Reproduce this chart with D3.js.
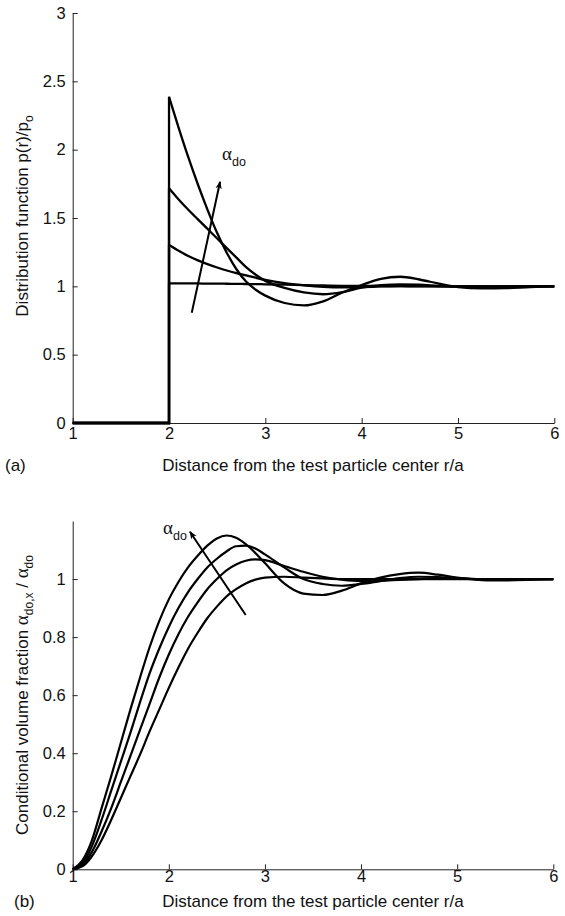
<!DOCTYPE html>
<html><head><meta charset="utf-8">
<script src="https://cdn.jsdelivr.net/npm/d3@7"></script>
<style>
html,body{margin:0;padding:0;background:#fff;}
svg{display:block;}
text{font-family:"Liberation Sans",Arial,Helvetica,sans-serif;fill:#111;}
.greek{font-family:"Liberation Serif","DejaVu Serif",serif;}
</style></head>
<body>
<svg id="chart" width="565" height="916"></svg>
<script>
// ---------- DATA ----------
// Panel (a): distribution function p(r)/p0 vs r/a (four volume fractions)
const rA = [2.0,2.1,2.2,2.3,2.4,2.5,2.6,2.7,2.8,2.9,3.0,3.2,3.4,3.6,3.8,4.0,4.2,4.4,4.6,4.8,5.0,5.25,5.5,5.75,6.0];
const pA1 = [2.387,2.16,1.945,1.745,1.56,1.39,1.245,1.125,1.035,0.975,0.932,0.878,0.86,0.89,0.955,1.01,1.055,1.07,1.05,1.02,0.995,0.985,0.987,0.995,1.0];
const pA2 = [1.717,1.635,1.56,1.49,1.42,1.35,1.28,1.21,1.14,1.085,1.04,0.988,0.955,0.942,0.957,0.99,1.008,1.015,1.012,1.004,0.998,0.997,0.998,1.0,1.0];
const pA3 = [1.302,1.26,1.222,1.19,1.162,1.138,1.116,1.097,1.08,1.063,1.047,1.023,1.008,0.997,0.993,0.995,0.999,1.002,1.002,1.0,1.0,1.0,1.0,1.0,1.0];
const pA4 = [1.022,1.022,1.021,1.021,1.02,1.02,1.019,1.018,1.017,1.016,1.015,1.012,1.009,1.006,1.004,1.003,1.002,1.001,1.0,1.0,1.0,1.0,1.0,1.0,1.0];
const seriesA = [pA1,pA2,pA3,pA4];
const contactR = 2;
const xTicksA = [1,2,3,4,5,6];
const yTicksA = [0,0.5,1,1.5,2,2.5,3];
// arrow (a): tail -> tip in data units
const arrowA = [[2.236,0.807],[2.53,1.765]];

// Panel (b): conditional volume fraction vs r/a
const rB = [1.0,1.1,1.2,1.3,1.4,1.5,1.6,1.7,1.8,1.9,2.0,2.1,2.2,2.3,2.4,2.5,2.6,2.7,2.8,2.9,3.0,3.2,3.4,3.6,3.8,4.0,4.2,4.4,4.6,4.8,5.0,5.2,5.4,5.6,5.8,6.0];
const cB1 = [0,0.03,0.10,0.21,0.32,0.435,0.55,0.66,0.765,0.855,0.93,0.99,1.04,1.08,1.115,1.14,1.15,1.142,1.12,1.09,1.055,0.985,0.95,0.945,0.96,0.985,1.005,1.017,1.022,1.015,1.005,0.998,0.995,0.996,0.998,1.0];
const cB2 = [0,0.02,0.08,0.17,0.27,0.37,0.47,0.575,0.675,0.76,0.835,0.90,0.955,1.0,1.04,1.07,1.095,1.113,1.115,1.105,1.085,1.04,1.0,0.983,0.977,0.983,0.993,1.003,1.008,1.007,1.003,1.0,0.999,0.999,1.0,1.0];
const cB3 = [0,0.015,0.06,0.13,0.21,0.30,0.39,0.48,0.57,0.66,0.74,0.81,0.87,0.92,0.965,1.0,1.03,1.05,1.063,1.068,1.065,1.045,1.025,1.008,0.998,0.993,0.994,0.997,1.0,1.002,1.002,1.0,1.0,1.0,1.0,1.0];
const cB4 = [0,0.01,0.045,0.10,0.17,0.245,0.32,0.395,0.475,0.55,0.625,0.695,0.76,0.815,0.865,0.905,0.94,0.965,0.985,0.998,1.005,1.008,1.005,1.002,1.0,1.0,1.0,1.0,1.0,1.0,1.0,1.0,1.0,1.0,1.0,1.0];
const seriesB = [cB1,cB2,cB3,cB4];
const xTicksB = [1,2,3,4,5,6];
const yTicksB = [0,0.2,0.4,0.6,0.8,1];
const arrowB = [[2.80,0.876],[2.22,1.163]];

// ---------- DRAW ----------
const svg = d3.select("#chart");
const fmt = d => String(d);

const defs = svg.append("defs");
defs.append("marker").attr("id","ah").attr("viewBox","0 0 10 10")
  .attr("refX",9).attr("refY",5).attr("markerWidth",8).attr("markerHeight",8)
  .attr("markerUnits","userSpaceOnUse").attr("orient","auto")
  .append("path").attr("d","M0,1 L10,5 L0,9 L3,5 Z").attr("fill","#000");

function styleAxis(g){
  g.selectAll(".domain").attr("stroke","#222").attr("stroke-width",1);
  g.selectAll(".tick line").attr("stroke","#222").attr("stroke-width",1);
  g.selectAll(".tick text").attr("font-size",16.5).attr("fill","#111")
    .attr("font-family","Liberation Sans, Arial, sans-serif");
}

// ----- Panel (a) -----
const xa = d3.scaleLinear().domain([1,6]).range([72.7,554.3]);
const ya = d3.scaleLinear().domain([0,3]).range([423,13]);

svg.append("g").attr("transform","translate(0,423)")
  .call(d3.axisBottom(xa).tickValues(xTicksA).tickFormat(fmt).tickSizeInner(-5).tickSizeOuter(0).tickPadding(4))
  .call(styleAxis);
svg.append("g").attr("transform","translate(72.7,0)")
  .call(d3.axisLeft(ya).tickValues(yTicksA).tickFormat(fmt).tickSizeInner(-5).tickSizeOuter(0).tickPadding(7))
  .call(styleAxis);

const lineA = d3.line().x((d,i)=>xa(rA[i])).y(d=>ya(d)).curve(d3.curveMonotoneX);
const stepLine = d3.line().x(d=>xa(d[0])).y(d=>ya(d[1]));
seriesA.forEach(s=>{
  svg.append("path").attr("d",stepLine([[1,0],[contactR,0],[contactR,s[0]]]))
    .attr("fill","none").attr("stroke","#000").attr("stroke-width",2.3);
  svg.append("path").attr("d",lineA(s))
    .attr("fill","none").attr("stroke","#000").attr("stroke-width",2.3);
});
svg.append("line")
  .attr("x1",xa(arrowA[0][0])).attr("y1",ya(arrowA[0][1]))
  .attr("x2",xa(arrowA[1][0])).attr("y2",ya(arrowA[1][1]))
  .attr("stroke","#000").attr("stroke-width",2).attr("marker-end","url(#ah)");
const laA = svg.append("text").attr("x",222).attr("y",160);
laA.append("tspan").attr("class","greek").attr("font-size",19).text("α");
laA.append("tspan").attr("font-size",12.5).attr("dy",6).text("do");

svg.append("text").attr("transform","translate(28,216) rotate(-90)")
  .attr("text-anchor","middle").attr("font-size",17)
  .call(t=>{ t.append("tspan").text("Distribution function p(r)/p");
             t.append("tspan").attr("font-size",12).attr("dy",5).text("o"); });
svg.append("text").attr("x",313).attr("y",471).attr("text-anchor","middle").attr("font-size",17)
  .text("Distance from the test particle center r/a");
svg.append("text").attr("x",5).attr("y",471).attr("font-size",17).text("(a)");

// ----- Panel (b) -----
const xb = d3.scaleLinear().domain([1,6]).range([72.7,553.3]);
const yb = d3.scaleLinear().domain([0,1.2]).range([869.3,521]);

svg.append("g").attr("transform","translate(0,869.3)")
  .call(d3.axisBottom(xb).tickValues(xTicksB).tickFormat(fmt).tickSizeInner(-5).tickSizeOuter(0).tickPadding(1))
  .call(styleAxis);
svg.append("g").attr("transform","translate(72.7,0)")
  .call(d3.axisLeft(yb).tickValues(yTicksB).tickFormat(fmt).tickSizeInner(-5).tickSizeOuter(0).tickPadding(7))
  .call(styleAxis);

const lineB = d3.line().x((d,i)=>xb(rB[i])).y(d=>yb(d)).curve(d3.curveMonotoneX);
seriesB.forEach(s=>{
  svg.append("path").attr("d",lineB(s))
    .attr("fill","none").attr("stroke","#000").attr("stroke-width",2.2);
});
svg.append("line")
  .attr("x1",xb(arrowB[0][0])).attr("y1",yb(arrowB[0][1]))
  .attr("x2",xb(arrowB[1][0])).attr("y2",yb(arrowB[1][1]))
  .attr("stroke","#000").attr("stroke-width",2).attr("marker-end","url(#ah)");
const laB = svg.append("text").attr("x",163).attr("y",534);
laB.append("tspan").attr("class","greek").attr("font-size",19).text("α");
laB.append("tspan").attr("font-size",12.5).attr("dy",6).text("do");

svg.append("text").attr("transform","translate(28,695) rotate(-90)")
  .attr("text-anchor","middle").attr("font-size",17)
  .call(t=>{ t.append("tspan").text("Conditional volume fraction ");
             t.append("tspan").attr("class","greek").attr("font-size",19).text("α");
             t.append("tspan").attr("font-size",12).attr("dy",5).text("do,x");
             t.append("tspan").attr("dy",-5).text(" / ");
             t.append("tspan").attr("class","greek").attr("font-size",19).text("α");
             t.append("tspan").attr("font-size",12).attr("dy",5).text("do"); });
svg.append("text").attr("x",313).attr("y",907).attr("text-anchor","middle").attr("font-size",17)
  .text("Distance from the test particle center r/a");
svg.append("text").attr("x",14).attr("y",907).attr("font-size",17).text("(b)");
</script>
</body></html>
